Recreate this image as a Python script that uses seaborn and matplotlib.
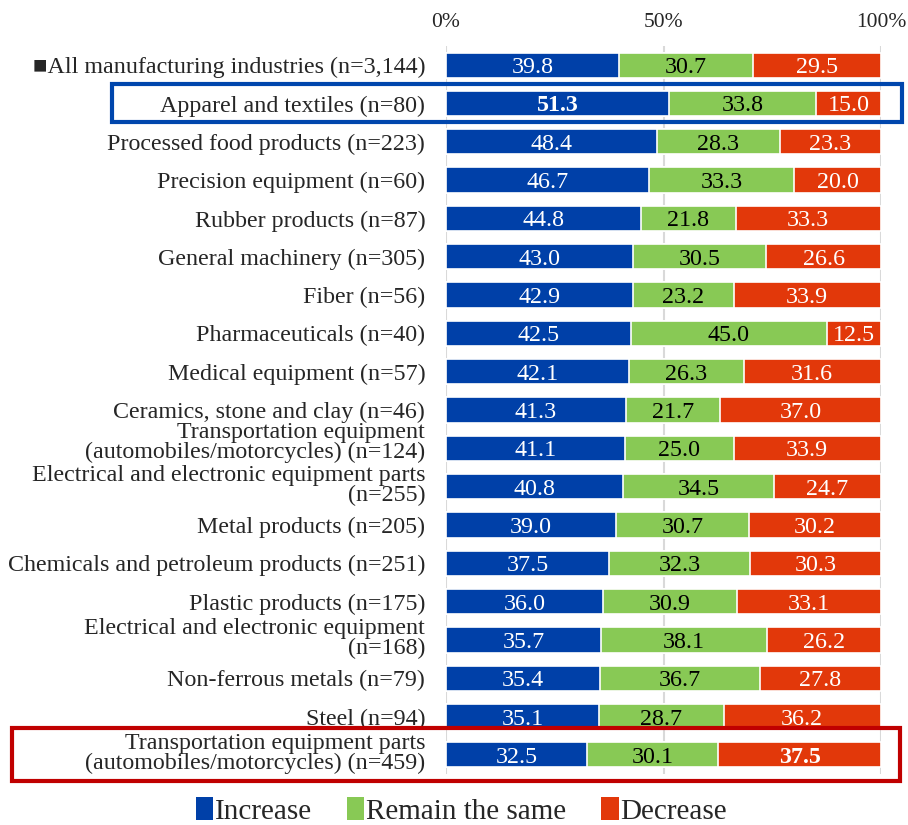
import matplotlib
matplotlib.use("Agg")
import matplotlib.pyplot as plt
import matplotlib.transforms as mtransforms
from matplotlib.patches import Rectangle, Patch
import pandas as pd
import seaborn as sns

# Survey data: share of firms by expected change (%)
categories = [
    "■All manufacturing industries (n=3,144)",
    "Apparel and textiles (n=80)",
    "Processed food products (n=223)",
    "Precision equipment (n=60)",
    "Rubber products (n=87)",
    "General machinery (n=305)",
    "Fiber (n=56)",
    "Pharmaceuticals (n=40)",
    "Medical equipment (n=57)",
    "Ceramics, stone and clay (n=46)",
    "Transportation equipment\n(automobiles/motorcycles) (n=124)",
    "Electrical and electronic equipment parts\n(n=255)",
    "Metal products (n=205)",
    "Chemicals and petroleum products (n=251)",
    "Plastic products (n=175)",
    "Electrical and electronic equipment\n(n=168)",
    "Non-ferrous metals (n=79)",
    "Steel (n=94)",
    "Transportation equipment parts\n(automobiles/motorcycles) (n=459)",
]
increase = [39.8, 51.3, 48.4, 46.7, 44.8, 43.0, 42.9, 42.5, 42.1, 41.3,
            41.1, 40.8, 39.0, 37.5, 36.0, 35.7, 35.4, 35.1, 32.5]
same = [30.7, 33.8, 28.3, 33.3, 21.8, 30.5, 23.2, 45.0, 26.3, 21.7,
        25.0, 34.5, 30.7, 32.3, 30.9, 38.1, 36.7, 28.7, 30.1]
decrease = [29.5, 15.0, 23.3, 20.0, 33.3, 26.6, 33.9, 12.5, 31.6, 37.0,
            33.9, 24.7, 30.2, 30.3, 33.1, 26.2, 27.8, 36.2, 37.5]
series_names = ["Increase", "Remain the same", "Decrease"]
xtick_values = [0, 50, 100]
xtick_labels = ["0%", "50%", "100%"]

colors = {"Increase": "#0040A8", "Remain the same": "#88C955", "Decrease": "#E2380A"}
text_colors = {"Increase": "white", "Remain the same": "black", "Decrease": "white"}

sns.set_theme(style="white")
plt.rcParams["font.family"] = ["Liberation Serif", "DejaVu Serif"]

df = pd.DataFrame({"category": categories, "Increase": increase,
                   "Remain the same": same, "Decrease": decrease})
df["c1"] = df["Increase"]
df["c2"] = df["Increase"] + df["Remain the same"]
df["c3"] = df["c2"] + df["Decrease"]

fig = plt.figure(figsize=(9.08, 8.25), dpi=100)
ax = fig.add_axes([446 / 908, 1 - 774 / 825, (881 - 446) / 908, (774 - 46) / 825])

# Stacked bars drawn as overlapping cumulative layers
for col, name in [("c3", "Decrease"), ("c2", "Remain the same"), ("c1", "Increase")]:
    sns.barplot(data=df, x=col, y="category", orient="h", color=colors[name],
                width=0.66, edgecolor="white", linewidth=1.2, saturation=1,
                ax=ax, zorder=2)

ax.set_xlim(0, 100)
ax.set_ylim(18.5, -0.5)
ax.set_xlabel("")
ax.set_ylabel("")
ax.set_xticks(xtick_values)
ax.set_xticklabels(xtick_labels, fontsize=15.5)
ax.xaxis.tick_top()
ax.tick_params(axis="x", length=0, pad=10)
ax.tick_params(axis="y", length=0, pad=15, labelsize=17.3)
for lbl in ax.get_yticklabels():
    if "\n" in lbl.get_text():
        lbl.set_linespacing(0.93)
        up = 0.08 if lbl.get_text().startswith("Transportation equipment\n") else 0.03
        lbl.set_transform(lbl.get_transform() +
                          mtransforms.ScaledTranslation(0, up, fig.dpi_scale_trans))
ax.grid(axis="x", color="#D9D9D9", linewidth=1.5)
ax.set_axisbelow(True)
for s in ax.spines.values():
    s.set_visible(False)

# Value labels centred in each segment
bold_cells = {(1, "Increase"), (18, "Decrease")}
for i, row in df.iterrows():
    starts = {"Increase": 0, "Remain the same": row["c1"], "Decrease": row["c2"]}
    for name in series_names:
        v = row[name]
        ax.text(starts[name] + v / 2, i, f"{v:.1f}", ha="center",
                va="center_baseline", color=text_colors[name], fontsize=17.3,
                fontweight="bold" if (i, name) in bold_cells else "normal",
                zorder=5)

# Highlight boxes around two rows
blend = mtransforms.blended_transform_factory(fig.transFigure, ax.transData)
ax.add_patch(Rectangle((112 / 908, 1 - 0.52), (902 - 112) / 908, 1.0,
                       transform=blend, fill=False, edgecolor="#0046AD",
                       linewidth=3, clip_on=False, zorder=6))
ax.add_patch(Rectangle((12 / 908, 18 - 0.70), (900 - 12) / 908, 1.38,
                       transform=blend, fill=False, edgecolor="#C00000",
                       linewidth=3, clip_on=False, zorder=6))

handles = [Patch(facecolor=colors[n], edgecolor="none") for n in series_names]
fig.legend(handles, series_names, loc="center", bbox_to_anchor=(0.508, 0.017),
           ncol=3, frameon=False, fontsize=21, handlelength=0.6, handleheight=0.8,
           handletextpad=0.05, columnspacing=1.2, borderpad=0.2)

fig.savefig("out.png", dpi=100)
